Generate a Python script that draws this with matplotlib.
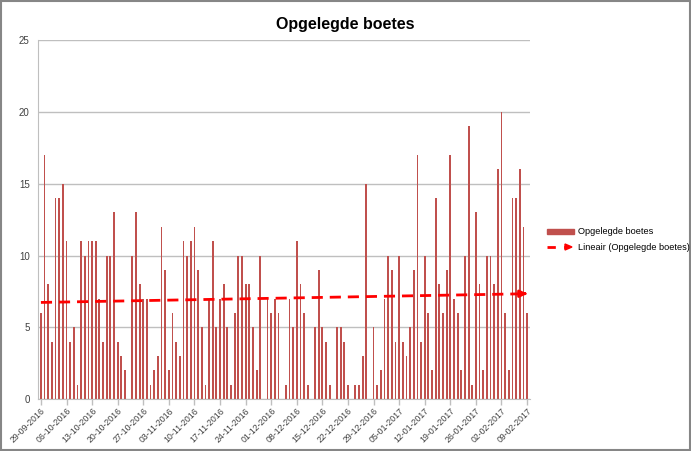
import numpy as np
import pandas as pd
import matplotlib
matplotlib.use('Agg')
import matplotlib.pyplot as plt
import matplotlib.dates as mdates
from matplotlib.patches import Rectangle
from matplotlib.lines import Line2D

plt.rcParams['font.family'] = ['Liberation Sans', 'DejaVu Sans']

# one value per day, 29-09-2016 .. 09-02-2017
start_date = '2016-09-29'
boetes = [6, 17, 8, 4, 14, 14, 15, 11, 4, 5,
          1, 11, 10, 11, 11, 11, 7, 4, 10, 10,
          13, 4, 3, 2, 0, 10, 13, 8, 7, 7,
          1, 2, 3, 12, 9, 2, 6, 4, 3, 11,
          10, 11, 12, 9, 5, 1, 7, 11, 5, 7,
          8, 5, 1, 6, 10, 10, 8, 8, 5, 2,
          10, 0, 7, 6, 7, 6, 0, 1, 7, 5,
          11, 8, 6, 1, 0, 5, 9, 5, 4, 1,
          0, 5, 5, 4, 1, 0, 1, 1, 3, 15,
          0, 5, 1, 2, 7, 10, 9, 4, 10, 4,
          3, 5, 9, 17, 4, 10, 6, 2, 14, 8,
          6, 9, 17, 7, 6, 2, 10, 19, 1, 13,
          8, 2, 10, 10, 8, 16, 20, 6, 2, 14,
          14, 16, 12, 6]
y_ticks = [0, 5, 10, 15, 20, 25]
title = 'Opgelegde boetes'
series_label = 'Opgelegde boetes'
trend_label = 'Lineair (Opgelegde boetes)'

dates = pd.date_range(start_date, periods=len(boetes), freq='D')
xnum = mdates.date2num(dates.to_pydatetime())
vals = np.array(boetes, dtype=float)

bar_col = '#C0504D'
grid_col = '#BFBFBF'
txt_col = '#404040'

fig = plt.figure(figsize=(6.91, 4.51), dpi=100)
ax = fig.add_axes([0.055, 0.115, 0.712, 0.796])

ax.bar(xnum, vals, width=0.5, color=bar_col, edgecolor='none', zorder=2)

# linear trend line (least squares, like Excel)
k, b = np.polyfit(xnum - xnum[0], vals, 1)
trend = k * (xnum - xnum[0]) + b
ax.plot(xnum, trend, color='red', linestyle=(0, (4, 2.5)), linewidth=2, zorder=3)
ax.annotate('', xy=(xnum[-1] + 0.8, trend[-1]), xytext=(xnum[-1] - 1.5, trend[-1]),
            arrowprops=dict(arrowstyle='-|>', color='red', lw=2, mutation_scale=10),
            zorder=4)

ax.set_xlim(xnum[0] - 0.8, xnum[-1] + 0.8)
ax.set_ylim(0, 25)
ax.set_yticks(y_ticks)
ax.yaxis.grid(True, color=grid_col, linewidth=1)
ax.set_axisbelow(True)

ax.set_xticks(xnum[::7])
ax.xaxis.set_major_formatter(mdates.DateFormatter('%d-%m-%Y'))
plt.setp(ax.get_xticklabels(), rotation=45, ha='right', rotation_mode='anchor')
ax.tick_params(axis='x', colors=grid_col, labelcolor=txt_col, labelsize=6.3, length=4, width=1, pad=1)
ax.tick_params(axis='y', length=0, labelcolor=txt_col, labelsize=7, pad=6)

for s in ['top', 'right']:
    ax.spines[s].set_visible(False)
ax.spines['left'].set_color(grid_col)
ax.spines['bottom'].set_color(grid_col)

fig.suptitle(title, x=0.5, y=0.962, fontsize=11.5, fontweight='bold')

# legend on the right, drawn by hand to get the arrow marker
fig.add_artist(Rectangle((547 / 691, 1 - 234 / 451), 27 / 691, 5 / 451,
                         transform=fig.transFigure, color=bar_col))
fig.text(578 / 691, 1 - 232 / 451, series_label, fontsize=6.6, color='black', va='center')
fig.add_artist(Line2D([547 / 691, 565 / 691], [1 - 247 / 451] * 2, transform=fig.transFigure,
                      color='red', linestyle=(0, (3, 3)), linewidth=2))
fig.add_artist(plt.Polygon([[565 / 691, 1 - 244 / 451], [565 / 691, 1 - 250 / 451],
                            [572 / 691, 1 - 247 / 451]], closed=True,
                           transform=fig.transFigure, color='red'))
fig.text(578 / 691, 1 - 247 / 451, trend_label, fontsize=6.6, color='black', va='center')

# chart border
fig.add_artist(Rectangle((0.001, 0.002), 0.997, 0.996, transform=fig.transFigure,
                         fill=False, edgecolor='#868686', linewidth=1.5))

fig.savefig('out.png', dpi=100)
